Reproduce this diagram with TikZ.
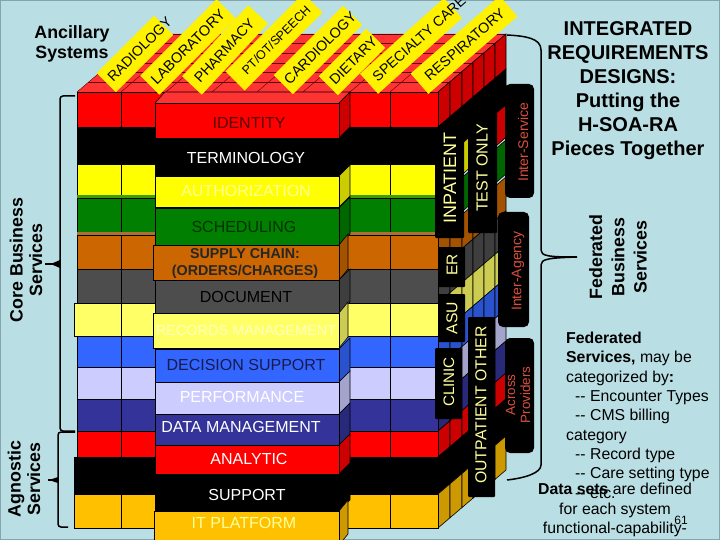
\documentclass[tikz,border=0pt]{standalone}
\usepackage{fontspec}
\setmainfont{Liberation Sans}
\newcommand{\pxfont}[1]{\fontsize{#1}{#1}\selectfont}
\definecolor{panelbg}{HTML}{B9DEE3}
\definecolor{panelrim}{HTML}{85A5AD}
\definecolor{lyrred}{HTML}{FF0000}
\definecolor{lyrtop}{HTML}{FF3333}
\definecolor{lyrblack}{HTML}{000000}
\definecolor{lyryellow}{HTML}{FFFF00}
\definecolor{lyrgreen}{HTML}{007F00}
\definecolor{lyrorange}{HTML}{CC6600}
\definecolor{lyrgray}{HTML}{4D4D4D}
\definecolor{lyrpale}{HTML}{FFFF66}
\definecolor{lyrblue}{HTML}{3366FF}
\definecolor{lyrlav}{HTML}{CCCCFF}
\definecolor{lyrnavy}{HTML}{333399}
\definecolor{lyrgold}{HTML}{FFC000}
\definecolor{tagtxt}{HTML}{FFFF99}
\definecolor{fedtxt}{HTML}{D9503C}
\tikzset{
  cellface/.style={draw=black, line width=0.6pt},
  topline/.style={draw=black!65!red, line width=0.4pt},
  deptlabel/.style={fill=yellow, text=black, inner sep=0pt, minimum height=27pt},
  layertxt/.style={inner sep=0pt, font=\pxfont{16}},
  tagbox/.style={fill=black, rounded corners=1pt},
  fedbox/.style={fill=black, rounded corners=5pt},
  tagname/.style={text=tagtxt, rotate=90, inner sep=0pt},
  fedname/.style={text=fedtxt, rotate=90, inner sep=0pt, align=center},
  bracket/.style={draw=black, line width=1.5pt},
  sidetxt/.style={inner sep=0pt, align=center, font=\bfseries\fontsize{17.8}{19.6}\selectfont},
}
\begin{document}
\begin{tikzpicture}[x=1pt, y=-1pt]
    \useasboundingbox (0,0) rectangle (720,540);
    % fundo
    \fill[panelbg] (0,0) rectangle (720,540);
    \draw[panelrim, line width=1pt] (0.5,0.5) rectangle (719.5,539.5);
    % topo da pilha de tras
    \fill[lyrtop] (77,92) -- (145,34) -- (506,34) -- (438,92) -- cycle;
    \foreach \xa in {77,121,166,212,257,303,350,390,438}
        \draw[topline] (\xa,92) -- (\xa+68,34);
    \foreach \da in {0,9.7,19.3,29,38.7,48.3,58}
        \draw[topline] (77+\da*1.172,92-\da) -- (438+\da*1.172,92-\da);
    % pilha de tras, frente e lado direito
    \foreach \ya/\yb/\colr/\xl in {92/127/lyrred/77, 127/164/lyrblack/77, 164/195/lyryellow/77,
        198/232/lyrgreen/77, 235/269/lyrorange/77, 269/303/lyrgray/77, 303/336/lyrpale/74,
        336/367/lyrblue/77, 367/399/lyrlav/77, 399/431/lyrnavy/77, 431/457/lyrred/77,
        457/494/lyrblack/74, 494/528/lyrgold/74} {
        \foreach \xa/\xb in {438/450, 450/462, 462/473, 473/484, 484/495, 495/506} {
            \pgfmathsetmacro{\da}{(\xa-438)*0.853}
            \pgfmathsetmacro{\db}{(\xb-438)*0.853}
            \filldraw[cellface, fill=\colr!80!black] (\xa,\ya-\da) -- (\xb,\ya-\db) -- (\xb,\yb-\db) -- (\xa,\yb-\da) -- cycle;
        }
        \foreach \xa/\xb in {\xl/121, 121/170, 330/390, 390/438}
            \filldraw[cellface, fill=\colr] (\xa,\ya) rectangle (\xb,\yb);
    }
    % frisos entre camadas e a coluna vermelha do fundo
    \fill[lyrgreen!75!yellow] (77,195) rectangle (438,198);
    \fill[lyrorange!60!gray] (77,232) rectangle (438,235);
    \filldraw[cellface, fill=lyrred!80!black] (495,114) -- (506,105) -- (506,137) -- (495,147) -- cycle;
    % bloco central
    \fill[lyrtop] (155,103) -- (165,92) -- (350,92) -- (339,103) -- cycle;
    \draw[line width=0.6pt] (155,103) -- (165,92) -- (350,92) -- (339,103);
    \foreach \ya/\yb/\colr/\xl/\xr in {103/138/lyrred/155/350, 138/176/lyrblack/155/350, 176/207/lyryellow/155/350,
        208/245/lyrgreen/155/350, 245/280/lyrorange/153/348, 280/313/lyrgray/155/350, 313/348/lyrpale/153/348,
        349/382/lyrblue/155/350, 382/414/lyrlav/155/350, 414/445/lyrnavy/155/350, 445/474/lyrred/155/350,
        474/511/lyrblack/155/350, 511/545/lyrgold/154/348} {
        \filldraw[cellface, fill=\colr!80!black] (339,\ya) -- (\xr,\ya-11) -- (\xr,\yb-11) -- (339,\yb) -- cycle;
        \filldraw[cellface, fill=\colr] (\xl,\ya) rectangle (339,\yb);
    }
    % nomes das camadas
    \node[layertxt, text=lyrred!35!black] (identity) at (249,123) {IDENTITY};
    \node[layertxt, text=white] (terminology) at (246,158) {TERMINOLOGY};
    \node[layertxt, text=tagtxt] (authorization) at (246,191) {AUTHORIZATION};
    \node[layertxt, text=lyrgreen!40!black] (scheduling) at (244,227) {SCHEDULING};
    \node[layertxt, text=black!85, align=center, font=\bfseries\fontsize{14.3}{17}\selectfont] (supply) at (245,263.5) {SUPPLY CHAIN:\\(ORDERS/CHARGES)};
    \node[layertxt, text=black] (document) at (246,297) {DOCUMENT};
    \node[layertxt, text=tagtxt!60!white, font=\pxfont{14.5}] (records) at (246,331) {RECORDS MANAGEMENT};
    \node[layertxt, text=lyrnavy!50!black] (decision) at (246,365) {DECISION SUPPORT};
    \node[layertxt, text=white] (performance) at (242,397) {PERFORMANCE};
    \node[layertxt, text=white] (datamgmt) at (241,427) {DATA MANAGEMENT};
    \node[layertxt, text=white] (analytic) at (249,459) {ANALYTIC};
    \node[layertxt, text=white] (support) at (247,495) {SUPPORT};
    \node[layertxt, text=tagtxt] (itplatform) at (244,523) {IT PLATFORM};
    % etiquetas amarelas
    \foreach \nm/\cx/\cy/\len/\ang/\shft/\size/\txt in {radiology/135/54/81/45/13/14.1/RADIOLOGY,
        laboratory/188/47/108/45/0/14.6/LABORATORY, pharmacy/225/50/97/47/-2/14.3/PHARMACY,
        ptot/274/42/110/45/6/12.4/{PT/OT/SPEECH}, cardiology/318/50/98/45/6/14.3/CARDIOLOGY,
        dietary/352/62/67/45/4/14.3/DIETARY, specialty/411/46/113/42/22/14.1/SPECIALTY CARE,
        respiratory/464/45/118/41/2/14.3/RESPIRATORY} {
        \node[deptlabel, minimum width=\len pt, rotate=\ang] (\nm) at (\cx,\cy)
            {\makebox[0pt]{\hspace*{\shft pt}\pxfont{\size}\txt}};
    }
    % abas pretas
    \foreach \nm/\xa/\ya/\xb/\yb/\tx/\ty/\size/\txt in {inpatient/435/127/464/238/450/178/18/INPATIENT,
        testonly/468/107/497/233/482/168/16/TEST ONLY, er/438/247/465/287/452/265/15.5/ER,
        asu/438/294/465/342/452/318/15.7/ASU, clinic/435/348/462/419/449/382/15.2/CLINIC,
        outpatient/468/317/495/497/481/405/15.8/OUTPATIENT OTHER} {
        \fill[tagbox] (\xa,\ya) rectangle (\xb,\yb);
        \node[tagname, font=\pxfont{\size}] (\nm) at (\tx,\ty) {\txt};
    }
    \foreach \nm/\xa/\ya/\xb/\yb/\tx/\ty/\txt in {interservice/505/84/534/198/523/142/Inter-Service,
        interagency/498/212/529/327/518/271/Inter-Agency} {
        \fill[fedbox] (\xa,\ya) rectangle (\xb,\yb);
        \node[fedname, font=\pxfont{14}] (\nm) at (\tx,\ty) {\txt};
    }
    \fill[fedbox] (505,338) rectangle (534,453);
    \node[fedname, font=\fontsize{13.4}{15}\selectfont] (across) at (518,395) {Across\\Providers};
    % chaves
    \coordinate (coretop) at (75,96);
    \coordinate (corelow) at (75,431);
    \coordinate (agntop) at (75,432);
    \coordinate (agnlow) at (68,527);
    \coordinate (fedtop) at (507,35);
    \coordinate (fedlow) at (507,480);
    \coordinate (fedtip) at (577,257);
    \draw[bracket, rounded corners=3pt] (coretop) -| (60,431) -- (corelow);
    \draw[bracket] (60,264) -- (45,264);
    \fill (60,260) -- (53,263) -- (53,265) -- (60,268) -- cycle;
    \draw[bracket, rounded corners=3pt] (agntop) -| (58,527) -- (agnlow);
    \draw[bracket] (58,480) -- (48,480);
    \fill (58,477) -- (52,479) -- (52,481) -- (58,483) -- cycle;
    \draw[bracket] (fedtop) .. controls (525,36) and (541,38) .. (541,50) -- (541,250)
        .. controls (541,256) and (548,257) .. (fedtip)
        .. controls (548,258) and (541,259) .. (541,265) -- (541,465)
        .. controls (541,473) and (525,478) .. (fedlow);
    % textos
    \node[sidetxt] (ancillary) at (72,44) {Ancillary\\Systems};
    \node[sidetxt, rotate=90] (core) at (26,260) {Core Business\\Services};
    \node[sidetxt, rotate=90] (agnostic) at (24,479) {Agnostic\\Services};
    \node[sidetxt, rotate=90, font=\bfseries\fontsize{17.8}{22.3}\selectfont] (federated) at (618,257) {Federated\\Business\\Services};
    \node[inner sep=0pt, align=center, font=\bfseries\fontsize{20}{24}\selectfont] (title) at (628,91)
        {INTEGRATED\\REQUIREMENTS\\DESIGNS:\\Putting the\\H-SOA-RA\\Pieces Together};
    \node[inner sep=0pt, align=left, anchor=north west, font=\fontsize{15.8}{19.3}\selectfont] (fednote) at (566,332)
        {\textbf{Federated}\\\textbf{Services,} may be\\categorized by\textbf{:}\\\hspace*{9pt}-{}- Encounter Types\\\hspace*{9pt}-{}- CMS billing\\category\\\hspace*{9pt}-{}- Record type\\\hspace*{9pt}-{}- Care setting type\\\hspace*{9pt}-{}- etc.};
    \node[inner sep=0pt, align=center, font=\fontsize{15.8}{19.5}\selectfont] (datanote) at (615,510)
        {\textbf{Data sets} are defined\\for each system\\functional-capability-};
    \node[inner sep=0pt, font=\pxfont{12}] (pagenum) at (681,520) {61};
\end{tikzpicture}
\end{document}
